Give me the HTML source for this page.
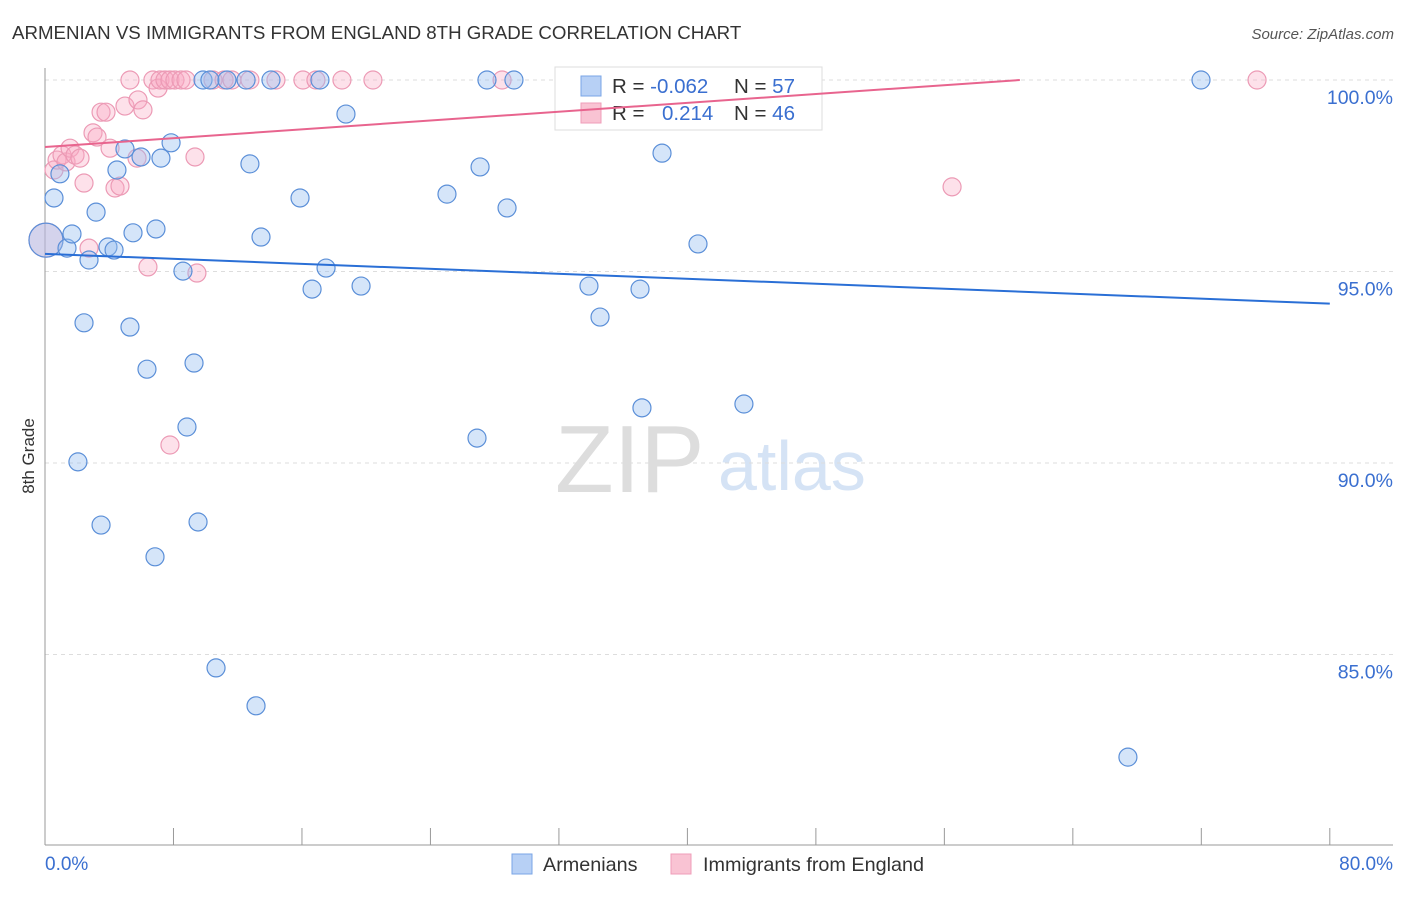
<!DOCTYPE html>
<html><head><meta charset="utf-8"><style>
body{margin:0;background:#fff;font-family:"Liberation Sans",sans-serif}
svg text{font-family:"Liberation Sans",sans-serif}
</style></head><body>
<svg id="c" width="1406" height="892">
<text x="12" y="39" font-size="18.7" fill="#333">ARMENIAN VS IMMIGRANTS FROM ENGLAND 8TH GRADE CORRELATION CHART</text>
<text x="1394" y="39" font-size="15" fill="#555" font-style="italic" text-anchor="end">Source: ZipAtlas.com</text>
<text x="555" y="492" font-size="96" fill="#ddd" font-family="Liberation Serif">ZIP</text>
<text x="718" y="490" font-size="70" fill="#d5e3f5">atlas</text>
<g id="grid"></g><g id="axes"></g><g id="pts"></g>
<text x="34" y="456" font-size="17" fill="#333" transform="rotate(-90 34 456)" text-anchor="middle">8th Grade</text>
<g>
<rect x="555" y="67" width="267" height="63" fill="#fff" stroke="#ddd"/>
<rect x="581" y="76" width="20" height="20" fill="#b7d0f5" stroke="#7aa5e6"/>
<rect x="581" y="103" width="20" height="20" fill="#f9c3d3" stroke="#ef9db8"/>
<text x="612" y="93" font-size="20.5" fill="#333">R = <tspan fill="#3a6fd0">-0.062</tspan></text>
<text x="734" y="93" font-size="20.5" fill="#333">N = <tspan fill="#3a6fd0">57</tspan></text>
<text x="612" y="120" font-size="20.5" fill="#333">R = <tspan fill="#3a6fd0" x="662">0.214</tspan></text>
<text x="734" y="120" font-size="20.5" fill="#333">N = <tspan fill="#3a6fd0">46</tspan></text>
</g>
<g id="trend"></g>
<g>
<rect x="512" y="854" width="20" height="20" fill="#b7d0f5" stroke="#7aa5e6"/>
<text x="543" y="871" font-size="19.8" fill="#333">Armenians</text>
<rect x="671" y="854" width="20" height="20" fill="#f9c3d3" stroke="#ef9db8"/>
<text x="703" y="871" font-size="19.8" fill="#333">Immigrants from England</text>
</g>
</svg>
<script>
const blueX=[0.56,0.93,0.06,1.37,1.68,2.74,3.18,2.43,2.05,3.49,3.92,4.30,4.48,4.98,5.98,5.48,5.29,6.35,6.85,6.91,7.22,7.85,8.59,8.84,9.28,9.53,9.84,10.27,10.65,11.33,12.52,12.76,13.14,13.45,14.07,15.88,16.63,17.12,17.50,18.74,19.68,25.03,26.90,27.09,27.52,28.77,29.20,32.81,33.87,34.56,37.05,37.17,38.42,40.66,43.52,67.43,71.98];
const blueY=[96.92,97.55,95.82,95.61,95.98,95.30,96.55,93.66,90.03,88.38,95.64,95.56,97.65,98.20,97.99,96.01,93.55,92.45,87.55,96.11,97.96,98.36,95.01,90.94,92.61,88.46,100,100,84.65,100,100,97.81,83.66,95.90,100,96.92,94.54,100,95.09,99.11,94.62,97.02,90.65,97.73,100,96.66,100,100,94.62,93.81,94.54,91.44,98.09,95.72,91.54,82.32,100];
const pinkX=[0.06,0.56,0.75,1.06,1.31,1.56,1.87,2.18,2.43,2.74,2.99,3.24,3.49,3.80,4.05,4.36,4.67,4.98,5.29,5.73,5.79,6.10,6.41,6.72,7.04,7.16,7.47,7.78,8.09,8.47,8.78,9.34,7.78,9.46,10.46,11.15,11.64,12.76,14.38,16.06,16.87,18.49,20.42,28.46,56.48,75.47];
const pinkY=[95.82,97.65,97.91,98.04,97.86,98.22,98.04,97.96,97.31,95.61,98.62,98.51,99.16,99.16,98.22,97.18,97.23,99.32,100,97.96,99.48,99.22,95.12,100,99.79,100,100,100,100,100,100,97.99,90.47,94.96,100,100,100,100,100,100,100,100,100,100,97.21,100];
const yTicks=[100,95,90,85];
const yTickLabels=["100.0%","95.0%","90.0%","85.0%"];
const blueTrend=[95.46,94.16];
const pinkTrend=[98.25,0.02883];
const NS="http://www.w3.org/2000/svg";
const sx=v=>45+v*16.06, sy=v=>80+(100-v)*38.3;
function mk(p,t,a){const e=document.createElementNS(NS,t);for(const k in a)e.setAttribute(k,a[k]);document.getElementById(p).appendChild(e);return e;}
yTicks.forEach((t,i)=>{
 const l=mk('grid','line',{x1:45,x2:1393,y1:sy(t),y2:sy(t),stroke:'#ddd','stroke-dasharray':'4,4'});
 
 
 const tx=mk('grid','text',{x:1393,y:sy(t)+24,'font-size':19.5,fill:'#3a6fd0','text-anchor':'end'});tx.textContent=yTickLabels[i];
 
 
});
mk('axes','line',{x1:45,x2:45,y1:68,y2:845,stroke:'#999'});
mk('axes','line',{x1:45,x2:1393,y1:845,y2:845,stroke:'#999'});
for(let i=1;i<=10;i++){const t=mk('axes','line',{x1:sx(i*8),x2:sx(i*8),y1:828,y2:845,stroke:'#999'});
 
 }
let a=mk('axes','text',{x:45,y:870,'font-size':19,fill:'#3a6fd0'});a.textContent='0.0%';


a=mk('axes','text',{x:1393,y:870,'font-size':19,fill:'#3a6fd0','text-anchor':'end'});a.textContent='80.0%';


function pts(X,Y,fill,stroke,name){X.forEach((x,i)=>{const r=(x<0.1)?17:9;
 const c=mk('pts','circle',{cx:sx(x),cy:sy(Y[i]),r:r,fill:fill,stroke:stroke,'stroke-width':1.2});
 
 });}
pts(pinkX,pinkY,'rgba(248,170,195,0.35)','#ec9ab5','england-point');
pts(blueX,blueY,'rgba(150,190,240,0.4)','#5b8fd8','armenian-point');
let t=mk('trend','line',{x1:sx(0),y1:sy(blueTrend[0]),x2:sx(80),y2:sy(blueTrend[1]),stroke:'#2a6fd6','stroke-width':2});


const xe=Math.min(80,(100-pinkTrend[0])/pinkTrend[1]);
t=mk('trend','line',{x1:sx(0),y1:sy(pinkTrend[0]),x2:sx(xe),y2:sy(pinkTrend[0]+pinkTrend[1]*xe),stroke:'#e8648e','stroke-width':2});


</script>
</body></html>
